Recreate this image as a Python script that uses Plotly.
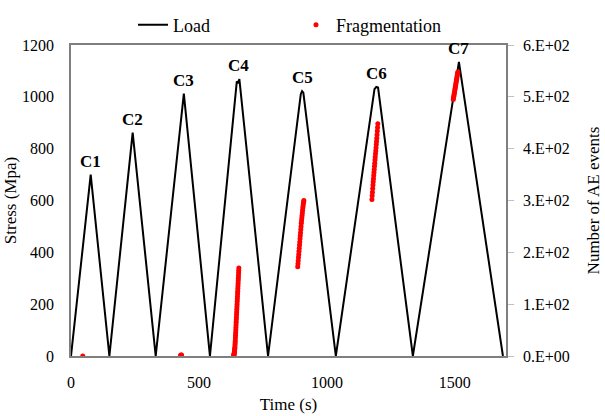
import plotly.graph_objects as go

# Load (stress) cycles
load_time = [0, 77, 150, 241, 331, 441, 543, 648, 652, 658, 770, 898, 903, 908, 1035, 1186, 1193, 1200, 1336, 1516, 1688]
load_stress = [0, 700, 0, 862, 0, 1012, 0, 1060, 1052, 1068, 0, 1010, 1022, 1016, 0, 1030, 1038, 1036, 0, 1135, 0]

# Fragmentation AE events (cumulative counts)
frag_time = [46,
             428, 430, 432,
             636, 636.5, 637, 637.5, 638, 638.5, 639, 639.5, 640, 640.5, 641, 641.5, 642, 642.5, 643, 643.5,
             644, 644.5, 645, 645.5, 646, 646.5, 647, 647.5, 648, 648.5, 649, 649.5, 650, 650.5, 651, 651.5,
             652, 652.5, 653, 653.5, 654, 654.5, 655, 655.5, 656,
             886, 887, 888, 889, 890, 891, 892, 893, 894, 895, 896, 897, 898, 899, 900, 901, 902, 903, 904, 905, 906, 907, 908, 909, 910,
             1176, 1177, 1178, 1179, 1180, 1181, 1182, 1183, 1184, 1185, 1186, 1187, 1188, 1189, 1190, 1191, 1192, 1193, 1194, 1195, 1196, 1197, 1198, 1199,
             1494, 1495, 1496, 1497, 1498, 1499, 1500, 1501, 1502, 1503, 1504, 1505, 1506, 1507, 1508, 1509, 1510, 1511, 1512]
frag_count = [0,
              1, 2, 2,
              1, 2, 3, 5, 6, 8, 10, 12, 15, 18, 22, 26, 30, 35, 40, 45,
              50, 55, 60, 65, 70, 75, 80, 85, 90, 95, 100, 105, 110, 115, 120, 125,
              130, 135, 140, 145, 150, 155, 160, 165, 170,
              172, 178, 184, 190, 196, 202, 208, 214, 220, 226, 232, 238, 244, 250, 256, 261, 266, 271, 276, 281, 286, 290, 294, 297, 300,
              302, 309, 316, 323, 330, 336, 342, 348, 354, 360, 366, 372, 378, 384, 390, 396, 402, 408, 414, 420, 427, 434, 441, 448,
              495, 498, 501, 504, 507, 510, 513, 516, 519, 522, 525, 528, 531, 534, 537, 540, 543, 546, 548]

cycle_labels = ["C1", "C2", "C3", "C4", "C5", "C6", "C7"]
peak_time = [77, 241, 441, 655, 905, 1193, 1516]
peak_stress = [700, 862, 1012, 1068, 1022, 1038, 1135]

left_ticks = [0, 200, 400, 600, 800, 1000, 1200]
right_ticks = [0, 100, 200, 300, 400, 500, 600]
right_ticktext = ["0.E+00", "1.E+02", "2.E+02", "3.E+02", "4.E+02", "5.E+02", "6.E+02"]
x_ticks = [0, 500, 1000, 1500]

FONT = "Liberation Serif"
AX = "#7f7f7f"

fig = go.Figure()
fig.add_trace(go.Scatter(x=load_time, y=load_stress, mode="lines", name="Load",
                         line=dict(color="black", width=2)))
fig.add_trace(go.Scatter(x=frag_time, y=frag_count, mode="markers", name="Fragmentation",
                         marker=dict(color="#ff0000", size=5), yaxis="y2"))

for lab, t, s in zip(cycle_labels, peak_time, peak_stress):
    fig.add_annotation(x=t, y=s, text="<b>" + lab + "</b>", showarrow=False,
                       yanchor="bottom", yshift=2, font=dict(family=FONT, size=17, color="black"))

fig.update_layout(
    width=605, height=416,
    margin=dict(l=71, r=99, t=45, b=60, autoexpand=False),
    paper_bgcolor="white", plot_bgcolor="white",
    font=dict(family=FONT, size=16, color="black"),
    showlegend=True,
    legend=dict(orientation="h", x=0.1425, xanchor="left", y=1.064, yanchor="middle",
                font=dict(family=FONT, size=18), entrywidth=118, bgcolor="rgba(0,0,0,0)"),
    xaxis=dict(range=[0, 1700], tickvals=x_ticks, showgrid=False, zeroline=False,
               showline=True, linecolor=AX, linewidth=1.5, mirror=True,
               ticks="", ticklabelstandoff=11, automargin=False,
               title=dict(text="Time (s)", standoff=8, font=dict(size=17))),
    yaxis=dict(range=[0, 1200], tickvals=left_ticks, showgrid=False, zeroline=False,
               showline=True, linecolor=AX, linewidth=1.5,
               ticks="", ticklabelstandoff=12, automargin=False,
               title=dict(text="Stress (Mpa)", standoff=1, font=dict(size=17))),
    yaxis2=dict(range=[0, 600], tickvals=right_ticks, ticktext=right_ticktext,
                overlaying="y", side="right", showgrid=False, zeroline=False,
                showline=True, linecolor=AX, linewidth=1.5, automargin=False,
                ticks="outside", ticklen=6, tickcolor="#bfbfbf", ticklabelstandoff=6,
                title=dict(text="Number of AE events", standoff=18, font=dict(size=17))),
)

fig.write_html("out.html", config={"displayModeBar": False},
               post_script="document.body.style.margin='0px';")
